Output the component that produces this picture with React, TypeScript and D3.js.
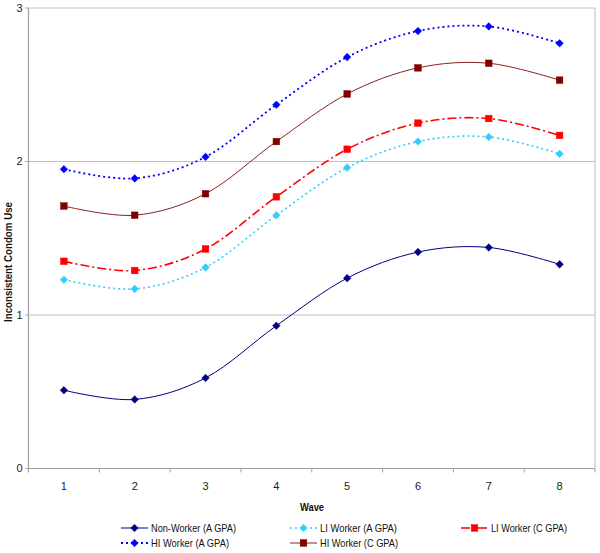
import React from "react";
import * as d3 from "d3";

const waves = [1, 2, 3, 4, 5, 6, 7, 8];
const yTicks = [0, 1, 2, 3];

const nonWorkerA = [0.51, 0.45, 0.59, 0.93, 1.24, 1.41, 1.44, 1.33];
const liWorkerA = [1.23, 1.17, 1.31, 1.65, 1.96, 2.13, 2.16, 2.05];
const liWorkerC = [1.35, 1.29, 1.43, 1.77, 2.08, 2.25, 2.28, 2.17];
const hiWorkerA = [1.95, 1.89, 2.03, 2.37, 2.68, 2.85, 2.88, 2.77];
const hiWorkerC = [1.71, 1.65, 1.79, 2.13, 2.44, 2.61, 2.64, 2.53];

const seriesNames = [
  "Non-Worker (A GPA)",
  "LI Worker (A GPA)",
  "LI Worker (C GPA)",
  "HI Worker (A GPA)",
  "HI Worker (C GPA)",
];

type Style = { color: string; marker: string; mColor: string; dash: string; width: number };

const styles: Style[] = [
  { color: "#000080", marker: "diamond", mColor: "#000080", dash: "", width: 1 },
  { color: "#33CCFF", marker: "diamond", mColor: "#33CCFF", dash: "2,3", width: 1.6 },
  { color: "#FF0000", marker: "square", mColor: "#FF0000", dash: "9,3,2,3", width: 1.6 },
  { color: "#0000FF", marker: "diamond", mColor: "#0000FF", dash: "2,3", width: 1.8 },
  { color: "#8B2020", marker: "square", mColor: "#800000", dash: "", width: 1 },
];

const seriesData = [nonWorkerA, liWorkerA, liWorkerC, hiWorkerA, hiWorkerC];

const font = "'Liberation Sans', Arial, sans-serif";

function Marker({ type, x, y, color }: { type: string; x: number; y: number; color: string }) {
  if (type === "diamond") {
    const r = 3.8;
    return (
      <path
        d={`M${x},${y - r}L${x + r},${y}L${x},${y + r}L${x - r},${y}Z`}
        fill={color}
        stroke={color}
        strokeWidth={0.5}
      />
    );
  }
  const s = 3.3;
  return <rect x={x - s} y={y - s} width={2 * s} height={2 * s} fill={color} stroke={color} strokeWidth={0.5} />;
}

export default function App() {
  const W = 600;
  const H = 553;
  const left = 28.5;
  const right = 595;
  const top = 8;
  const bottom = 468.5;

  const x = d3.scaleBand<number>().domain(waves).range([left, right]);
  const y = d3.scaleLinear().domain([0, 3]).range([bottom, top]);
  const cx = (w: number) => (x(w) as number) + x.bandwidth() / 2;

  const line = d3
    .line<number>()
    .x((_, i) => cx(waves[i]))
    .y((d) => y(d))
    .curve(d3.curveCatmullRom.alpha(0));

  const boundaries = waves.map((w) => x(w) as number).concat([right]);

  const legendItems = [
    { idx: 0, lx: 121, ly: 528, tl: 85 },
    { idx: 1, lx: 290, ly: 528, tl: 77 },
    { idx: 2, lx: 461, ly: 528, tl: 76 },
    { idx: 3, lx: 121, ly: 543, tl: 78 },
    { idx: 4, lx: 290, ly: 543, tl: 78 },
  ];

  return (
    <svg
      width={W}
      height={H}
      style={{ position: "absolute", left: 0, top: 0, background: "#fff" }}
      fontFamily={font}
    >
      <rect x={0} y={0} width={W} height={H} fill="#fff" />
      {/* gridlines */}
      {yTicks.map((t) => (
        <line key={"g" + t} x1={left} x2={right} y1={y(t)} y2={y(t)} stroke={t === 0 ? "#a0a0a0" : "#c0c0c0"} strokeWidth={1} />
      ))}
      {/* right border */}
      <line x1={right} x2={right} y1={top} y2={bottom} stroke="#b8b8b8" strokeWidth={1} />
      {/* y axis */}
      <line x1={left} x2={left} y1={top} y2={bottom + 3} stroke="#a0a0a0" strokeWidth={1.2} />
      {yTicks.map((t) => (
        <g key={"yt" + t}>
          <line x1={left - 3} x2={left} y1={y(t)} y2={y(t)} stroke="#a0a0a0" />
          <text x={left - 6} y={y(t)} dy="0.35em" textAnchor="end" fontSize={11} fill="#222">
            {t}
          </text>
        </g>
      ))}
      {/* x axis ticks */}
      {boundaries.map((b, i) => (
        <line key={"xt" + i} x1={b} x2={b} y1={bottom} y2={bottom + 4} stroke="#a0a0a0" />
      ))}
      {waves.map((w) => (
        <text key={"xl" + w} x={cx(w)} y={490} textAnchor="middle" fontSize={11} fill="#222">
          {w}
        </text>
      ))}
      <text x={312} y={511} textAnchor="middle" fontSize={10.5} fontWeight="bold" fill="#111" textLength={24} lengthAdjust="spacingAndGlyphs">
        Wave
      </text>
      <text
        transform={`translate(12,262) rotate(-90)`}
        textAnchor="middle"
        fontSize={10.5}
        fontWeight="bold"
        fill="#111"
        textLength={120}
        lengthAdjust="spacingAndGlyphs"
      >
        Inconsistent Condom Use
      </text>

      {/* series */}
      {seriesData.map((data, si) => {
        const st = styles[si];
        return (
          <g key={"s" + si}>
            <path
              d={line(data) || ""}
              fill="none"
              stroke={st.color}
              strokeWidth={st.width}
              strokeDasharray={st.dash || undefined}
            />
            {data.map((v, i) => (
              <Marker key={i} type={st.marker} x={cx(waves[i])} y={y(v)} color={st.mColor} />
            ))}
          </g>
        );
      })}

      {/* legend */}
      {legendItems.map(({ idx, lx, ly, tl }) => {
        const st = styles[idx];
        return (
          <g key={"lg" + idx}>
            <line
              x1={lx}
              x2={lx + 27}
              y1={ly}
              y2={ly}
              stroke={st.color}
              strokeWidth={st.width}
              strokeDasharray={st.dash || undefined}
            />
            <Marker type={st.marker} x={lx + 13.5} y={ly} color={st.mColor} />
            <text x={lx + 30} y={ly} dy="0.35em" fontSize={11} fill="#111" textLength={tl} lengthAdjust="spacingAndGlyphs">
              {seriesNames[idx]}
            </text>
          </g>
        );
      })}
    </svg>
  );
}
